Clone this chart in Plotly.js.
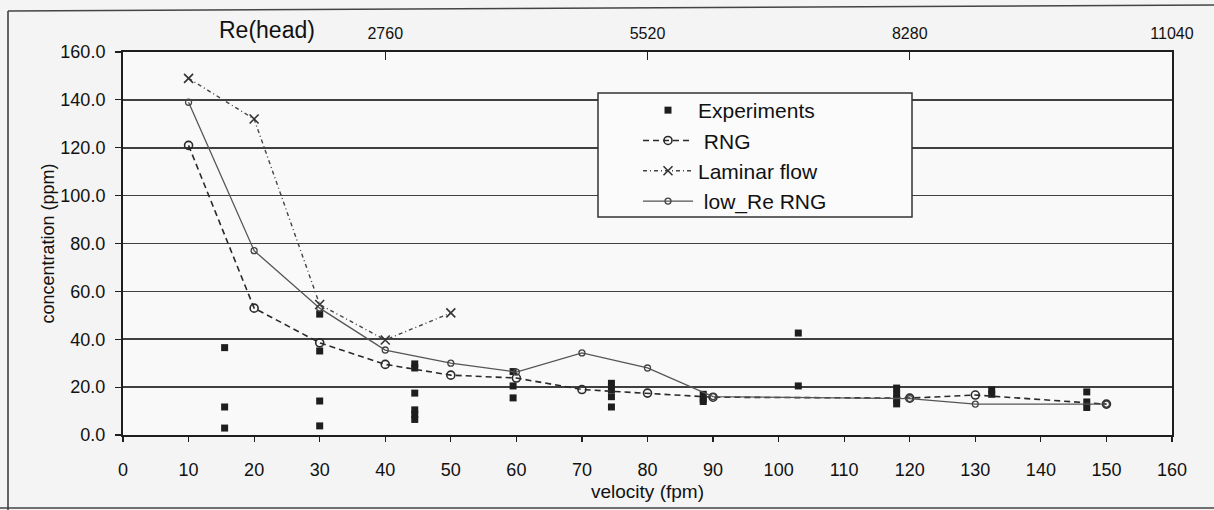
<!DOCTYPE html>
<html>
<head>
<meta charset="utf-8">
<script src="https://cdn.plot.ly/plotly-3.0.1.min.js"></script>
<style>
  html, body { margin: 0; padding: 0; background: #f4f4f4; }
  #chart { width: 1214px; height: 510px; }
</style>
</head>
<body>
<div id="chart"></div>
<script>
// ---- data ----
var velocity = [10, 20, 30, 40, 50, 60, 70, 80, 90, 120, 130, 150];
var rng      = [121, 53, 38.5, 29.5, 25, 23.8, 19, 17.5, 15.8, 15.4, 16.7, 12.9];
var lowReRng = [139, 77, 53, 35.5, 30, 26.3, 34.3, 28, 16, 15.2, 12.9, 12.9];

var laminarVelocity = [10, 20, 30, 40, 50];
var laminar         = [149, 132, 54.5, 39.7, 51];

var expVelocity = [15.5, 15.5, 15.5,
                   30, 30, 30, 30,
                   44.5, 44.5, 44.5, 44.5, 44.5, 44.5,
                   59.5, 59.5, 59.5,
                   74.5, 74.5, 74.5, 74.5,
                   88.5, 88.5, 88.5,
                   103, 103,
                   118, 118, 118, 118,
                   132.5, 132.5,
                   147, 147, 147];
var expConc = [36.5, 11.7, 2.9,
               50.5, 35.1, 14.2, 3.8,
               29.7, 28, 17.5, 10.5, 8.5, 6.5,
               26.5, 20.5, 15.5,
               21.6, 19, 16, 11.7,
               17, 15, 14,
               42.6, 20.5,
               19.6, 17, 15, 13,
               18.8, 17,
               18, 13.8, 11.5];

var reTickVelocity = [40, 80, 120, 160];
var reTickLabels   = ["2760", "5520", "8280", "11040"];

var yTicks = [0, 20, 40, 60, 80, 100, 120, 140, 160];

var FONT = '"Liberation Sans", Arial, sans-serif';
var INK = '#1e1e1e';

var traces = [
  {
    name: 'Experiments', x: expVelocity, y: expConc, type: 'scatter', mode: 'markers',
    marker: { symbol: 'square', size: 7, color: INK },
    legendgroup: 'a'
  },
  {
    name: ' RNG', x: velocity, y: rng, type: 'scatter', mode: 'lines+markers',
    line: { color: '#2a2a2a', width: 1.6, dash: '6px,4px' },
    marker: { symbol: 'circle-open', size: 8, color: '#2a2a2a', line: { width: 1.6 } },
    legendgroup: 'b'
  },
  {
    name: 'Laminar flow', x: laminarVelocity, y: laminar, type: 'scatter', mode: 'lines+markers',
    line: { color: '#444', width: 1.4, dash: '4px,3px,1px,3px' },
    marker: { symbol: 'x-thin-open', size: 9, color: '#333', line: { width: 1.6, color: '#333' } },
    legendgroup: 'c'
  },
  {
    name: ' low_Re RNG', x: velocity, y: lowReRng, type: 'scatter', mode: 'lines+markers',
    line: { color: '#555', width: 1.3 },
    marker: { symbol: 'circle-open', size: 6, color: '#444', line: { width: 1.3 } },
    legendgroup: 'd'
  },
  {
    // carrier for the top Re(head) axis
    x: reTickVelocity, y: [null, null, null, null], xaxis: 'x2', yaxis: 'y',
    type: 'scatter', mode: 'markers', showlegend: false, hoverinfo: 'skip',
    marker: { opacity: 0 }
  }
];

// pixel helpers for the scanned frame (plot area: x 123..1172, y 52..435)
function px(x) { return (x - 123) / 1049; }
function py(y) { return (435 - y) / 383; }

var layout = {
  width: 1214, height: 510,
  margin: { l: 123, r: 42, t: 52, b: 75 },
  paper_bgcolor: '#f4f4f4',
  plot_bgcolor: '#f9f9f9',
  font: { family: FONT, color: INK },
  showlegend: true,
  legend: {
    x: px(638), y: py(90), xanchor: 'left', yanchor: 'top',
    bgcolor: 'rgba(0,0,0,0)', borderwidth: 0,
    font: { family: FONT, size: 21, color: '#111' },
    itemwidth: 50, tracegroupgap: 0, traceorder: 'grouped'
  },
  xaxis: {
    range: [0, 160], tickvals: [0,10,20,30,40,50,60,70,80,90,100,110,120,130,140,150,160],
    ticks: 'outside', ticklen: 5, tickwidth: 1.2, tickcolor: INK,
    showline: true, linecolor: INK, linewidth: 2, mirror: true,
    showgrid: false, zeroline: false,
    tickfont: { family: FONT, size: 18, color: '#111' },
    ticklabelstandoff: 12,
    title: { text: 'velocity (fpm)', font: { family: FONT, size: 19, color: '#111' }, standoff: 6 }
  },
  xaxis2: {
    overlaying: 'x', side: 'top', range: [0, 160],
    tickvals: reTickVelocity, ticktext: reTickLabels,
    ticks: 'inside', ticklen: 8, tickwidth: 1.2, tickcolor: INK,
    showline: false, showgrid: false, zeroline: false,
    tickfont: { family: FONT, size: 16, color: '#111' },
    ticklabelstandoff: 9
  },
  yaxis: {
    range: [0, 160], tickvals: yTicks, tickformat: '.1f',
    ticks: 'outside', ticklen: 6, tickwidth: 1.2, tickcolor: INK,
    showline: true, linecolor: INK, linewidth: 2, mirror: true,
    showgrid: true, gridcolor: '#404040', gridwidth: 1.7, zeroline: false,
    tickfont: { family: FONT, size: 18, color: '#111' },
    ticklabelstandoff: 6,
    title: { text: 'concentration (ppm)', font: { family: FONT, size: 18, color: '#111' } }
  },
  annotations: [
    { text: 'Re(head)', xref: 'paper', yref: 'paper', x: px(267), y: py(30),
      xanchor: 'center', yanchor: 'middle', showarrow: false,
      font: { family: FONT, size: 23, color: '#111' } }
  ],
  shapes: [
    // legend box
    { type: 'rect', xref: 'paper', yref: 'paper', layer: 'above',
      x0: px(598), x1: px(912), y0: py(217), y1: py(93),
      fillcolor: '#fbfbfb', line: { color: '#333', width: 1.5 } },
    // scanned page frame
    { type: 'line', xref: 'paper', yref: 'paper', x0: px(8), x1: px(8), y0: py(11), y1: py(510),
      line: { color: '#333', width: 1.5 } },
    { type: 'line', xref: 'paper', yref: 'paper', x0: px(8), x1: px(1214), y0: py(11), y1: py(5),
      line: { color: '#444', width: 1.5 } },
    { type: 'line', xref: 'paper', yref: 'paper', x0: px(0), x1: px(1214), y0: py(508), y1: py(508),
      line: { color: '#444', width: 1.5 } }
  ]
};

Plotly.newPlot('chart', traces, layout, { staticPlot: true, displayModeBar: false });
</script>
</body>
</html>
